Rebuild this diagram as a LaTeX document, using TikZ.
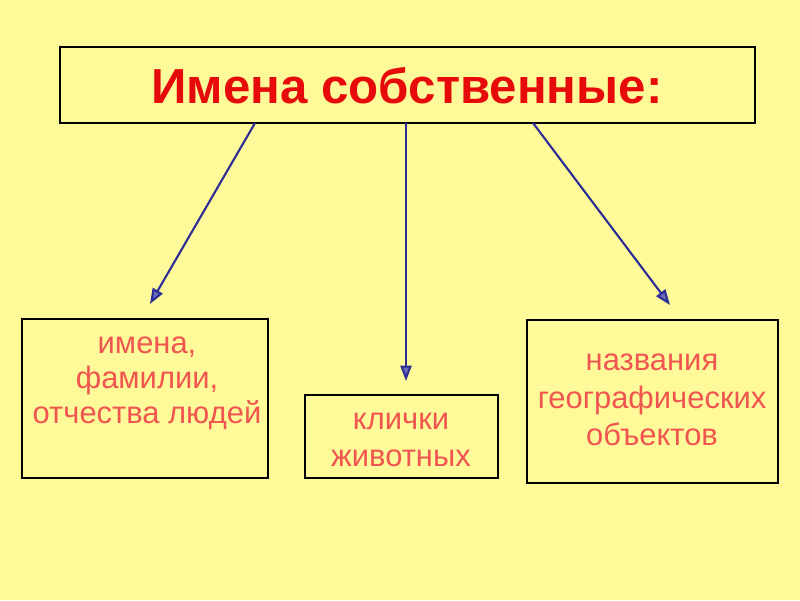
\documentclass[tikz,border=0pt]{standalone}
\usepackage{fontspec}
\setmainfont{Liberation Sans}
\usetikzlibrary{arrows.meta}
\definecolor{bg}{RGB}{255,250,153}
\definecolor{titlered}{RGB}{230,10,10}
\definecolor{txtred}{RGB}{240,85,80}
\definecolor{arrblue}{RGB}{45,45,150}
\tikzset{
  box/.style={draw=black, line width=2pt, fill=bg},
  lbl/.style={text=txtred, font=\fontsize{22}{25}\selectfont, align=center},
  lblwide/.style={text=txtred, font=\fontsize{22}{26.5}\selectfont, align=center},
  conn/.style={draw=arrblue, line width=1.5pt, -{Triangle[length=11pt,width=8pt,open,fill=arrblue!70!white]}}
}
\begin{document}
\begin{tikzpicture}[x=0.025cm,y=-0.025cm]
\fill[bg] (0,0) rectangle (800,600);
\useasboundingbox (0,0) rectangle (800,600);
% title
\node[box, minimum width=695*0.025cm, minimum height=76*0.025cm] (title) at (407.5,85) {};
\node[text=titlered, font=\bfseries\fontsize{35}{40}\selectfont] (titletxt) at (407,86) {Имена собственные:};
% boxes
\node[box, minimum width=246*0.025cm, minimum height=159*0.025cm] (left) at (145,398.5) {};
\node[box, minimum width=193*0.025cm, minimum height=83*0.025cm] (mid) at (401.5,436.5) {};
\node[box, minimum width=251*0.025cm, minimum height=163*0.025cm] (right) at (652.5,401.5) {};
\node[lbl] (lefttxt) at (147,383) {имена,\\фамилии,\\отчества людей};
\node[lblwide] (midtxt) at (401,440) {клички\\животных};
\node[lblwide] (righttxt) at (652,400) {названия\\географических\\объектов};
% anchor coordinates
\coordinate (a1) at (255,123);
\coordinate (b1) at (150,304);
\coordinate (a2) at (406,123);
\coordinate (b2) at (406,381);
\coordinate (a3) at (533,123);
\coordinate (b3) at (670,305);
\draw[conn] (a1) -- (b1);
\draw[conn] (a2) -- (b2);
\draw[conn] (a3) -- (b3);
\end{tikzpicture}
\end{document}
